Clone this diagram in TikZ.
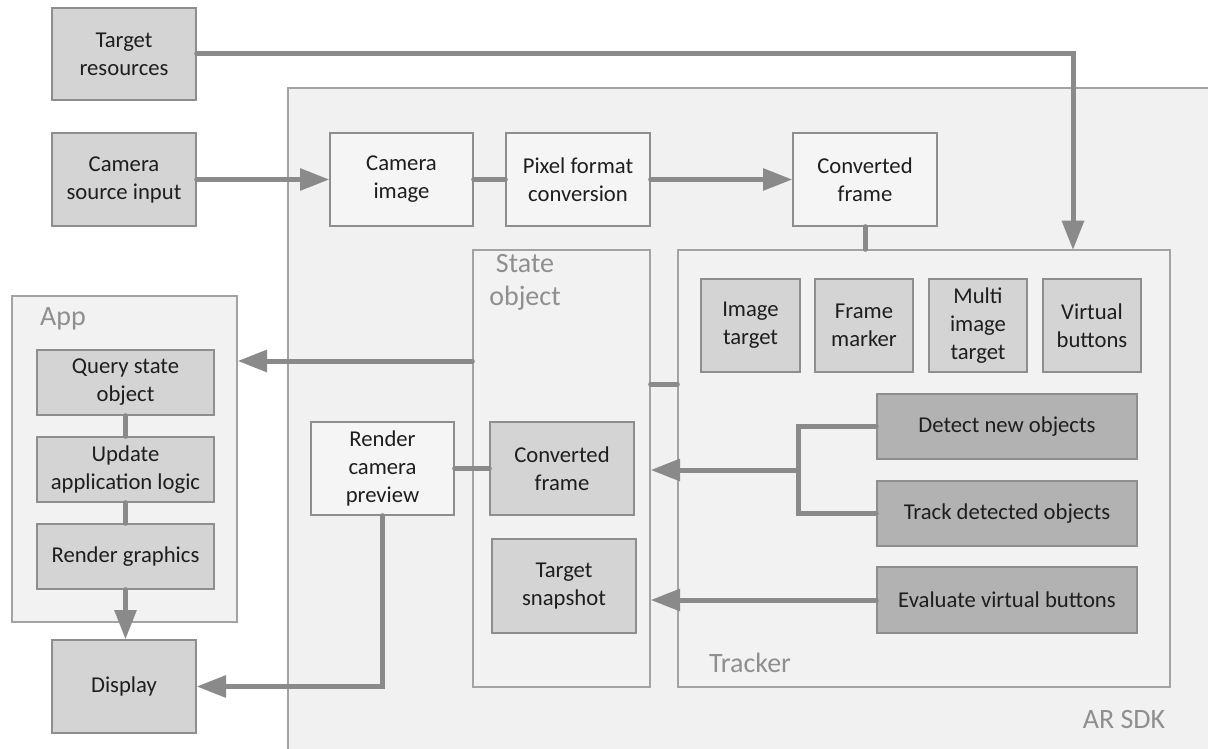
\documentclass[tikz,border=0pt]{standalone}
\usepackage{fontspec}
\setmainfont{Carlito}
\usetikzlibrary{arrows.meta,calc}
\definecolor{sdkfill}{HTML}{F1F1F1}
\definecolor{groupfill}{HTML}{F2F2F2}
\definecolor{groupborder}{HTML}{A3A3A3}
\definecolor{lightfill}{HTML}{F5F5F5}
\definecolor{midfill}{HTML}{D4D4D4}
\definecolor{darkfill}{HTML}{B2B2B2}
\definecolor{boxborder}{HTML}{8E8E8E}
\definecolor{conncolor}{HTML}{8A8A8A}
\definecolor{labelgray}{HTML}{8F8F8F}
\definecolor{textc}{HTML}{1E1E1E}
\newcommand\mainsize{\fontsize{17pt}{21pt}\selectfont}
\newcommand\biglabelsize{\fontsize{21pt}{25pt}\selectfont}
% \pxbox{style}{name}{x1}{y1}{x2}{y2}{text}
\newcommand\pxbox[7]{%
  \node[#1, minimum width={(#5-#3)*0.75pt}, minimum height={(#6-#4)*0.75pt}]
    (#2) at ({(#3+#5)/2},{(#4+#6)/2}) {#7};}
\begin{document}
\begin{tikzpicture}[x=0.75pt,y=-0.75pt,
  box/.style={draw=boxborder, line width=1pt, inner sep=0pt, align=center, font=\mainsize, text=textc},
  lightbox/.style={box, fill=lightfill},
  midbox/.style={box, fill=midfill},
  darkbox/.style={box, fill=darkfill},
  group/.style={draw=groupborder, line width=1pt, fill=groupfill, inner sep=0pt},
  grouplabel/.style={text=labelgray, font=\biglabelsize, align=center, inner sep=0pt},
  conn/.style={draw=conncolor, line width=3.75pt, line cap=round},
  arr/.style={conn, -{Triangle[length=22pt,width=16pt]}}
]
\useasboundingbox (0,0) rectangle (1208,749);
\fill[white] (0,0) rectangle (1208,749);
% AR SDK container
\fill[sdkfill] (288,88) rectangle (1208,749);
\draw[groupborder, line width=1pt] (288,749) -- (288,88) -- (1208,88);
\node[grouplabel] (sdklbl) at (1124,720) {AR SDK};

% outside boxes
\pxbox{midbox}{tres}{52}{8}{196}{100}{Target\\resources}
\pxbox{midbox}{csrc}{52}{133}{196}{226}{Camera\\source input}

% App group
\pxbox{group}{app}{12}{296}{237}{622}{}
\node[grouplabel] (applbl) at (63,319) {App};
\pxbox{midbox}{query}{37}{350}{214}{415}{Query state\\object}
\pxbox{midbox}{update}{37}{437}{214}{502}{Update\\application logic}
\pxbox{midbox}{rgfx}{37}{524}{214}{589}{Render graphics}
\pxbox{midbox}{disp}{52}{640}{196}{733}{Display}

% top row inside SDK
\pxbox{lightbox}{camimg}{330}{133}{473}{226}{Camera\\image}
\pxbox{lightbox}{pix}{506}{133}{650}{226}{Pixel format\\conversion}
\pxbox{lightbox}{cftop}{793}{133}{937}{226}{Converted\\frame}

% State object group
\pxbox{group}{state}{473}{250}{650}{687}{}
\node[grouplabel] (statelbl) at (525,282) {State\\object};
\pxbox{midbox}{cfin}{490}{422}{634}{515}{Converted\\frame}
\pxbox{midbox}{snap}{492}{539}{636}{633}{Target\\snapshot}

% Render camera preview
\pxbox{lightbox}{rcp}{311}{422}{454}{515}{Render\\camera\\preview}

% Tracker group
\pxbox{group}{tracker}{678}{250}{1170}{687}{}
\node[grouplabel] (trlbl) at (750,663) {Tracker};
\pxbox{midbox}{imgt}{701}{279}{800}{372}{Image\\target}
\pxbox{midbox}{fmark}{815}{279}{913}{372}{Frame\\marker}
\pxbox{midbox}{multi}{929}{279}{1027}{372}{Multi\\image\\target}
\pxbox{midbox}{vbtn}{1043}{279}{1141}{372}{Virtual\\buttons}
\pxbox{darkbox}{detect}{877}{394}{1137}{459}{Detect new objects}
\pxbox{darkbox}{track}{877}{481}{1137}{546}{Track detected objects}
\pxbox{darkbox}{evalv}{877}{567}{1137}{633}{Evaluate virtual buttons}

% connectors
\coordinate (trin) at (1073,250);
\draw[arr] (tres.east) -| (trin);
\draw[arr] (csrc.east) -- (camimg.west);
\draw[conn] (camimg.east) -- (pix.west);
\draw[arr] (pix.east) -- (cftop.west);
\draw[conn] (cftop.south) -- (cftop.south |- tracker.north);
\coordinate (sttr) at (660,384);
\draw[conn] (state.east |- sttr) -- (tracker.west |- sttr);
\coordinate (stapp) at (400,361);
\draw[arr] (state.west |- stapp) -- (app.east |- stapp);
\draw[conn] (query.south) -- (update.north);
\draw[conn] (update.south) -- (rgfx.north);
\draw[arr] (rgfx.south) -- (rgfx.south |- disp.north);
\draw[conn] (rcp.east) -- (cfin.west);
\draw[arr] (rcp.south) |- (disp.east);
\coordinate (br) at (798,470);
\draw[conn] (detect.west) -| (br) |- (track.west);
\draw[arr] (br) -- (state.east |- br);
\draw[arr] (evalv.west) -- (state.east |- evalv.west);
\end{tikzpicture}
\end{document}
